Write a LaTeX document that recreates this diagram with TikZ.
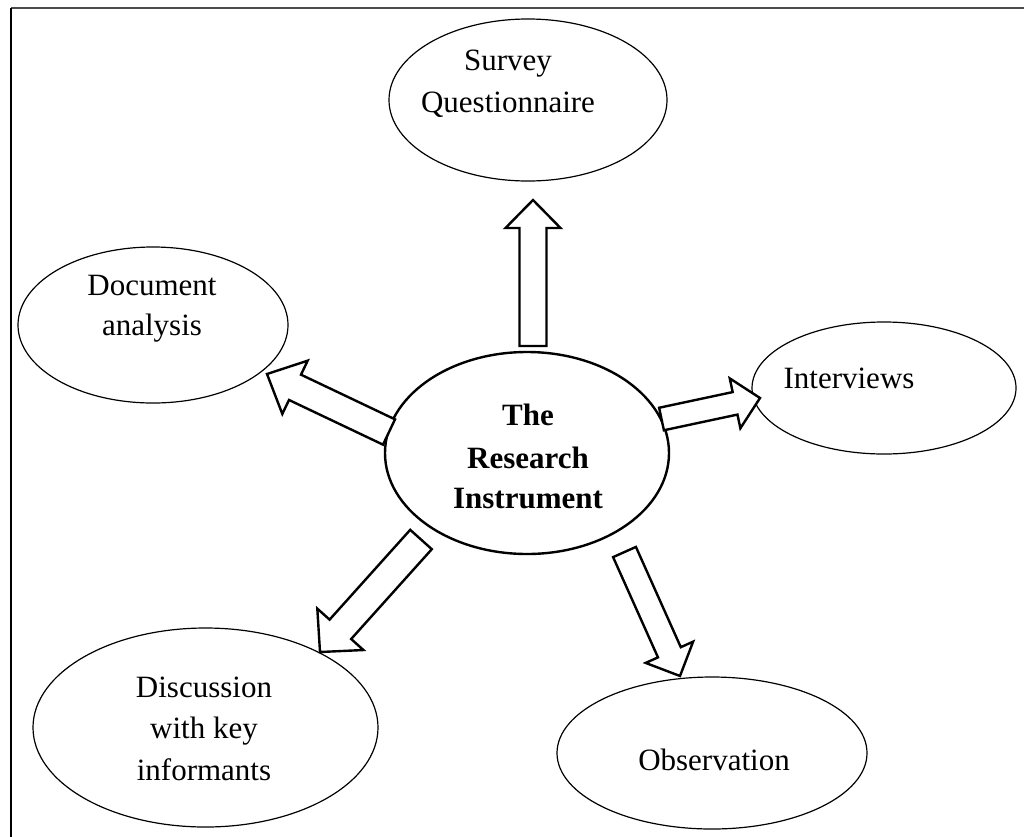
\documentclass[tikz,border=0pt]{standalone}
\usepackage{fontspec}
\setmainfont{Liberation Serif}
\usetikzlibrary{shapes.geometric,calc}

\tikzset{
  bubble/.style={draw, ellipse, inner sep=0pt, line width=1.2pt},
  core/.style={bubble, line width=2.4pt},
  caption/.style={anchor=base, inner sep=0pt, font=\fontsize{31}{42}\selectfont},
  corecaption/.style={caption, font=\fontsize{31}{42}\selectfont\bfseries},
  blockline/.style={draw, line width=2.4pt, line join=miter, fill=white},
  frameline/.style={line width=2pt}
}

% hollow block arrow: tail, tip, half shaft width, half head width, head length
\newcommand\blockarrow[5]{%
  \coordinate (#1-#2-h) at ($(#2)!#5!(#1)$);
  \draw[blockline] ($(#1)!#3!90:(#2)$) -- ($(#1-#2-h)!#3!90:(#2)$)
    -- ($(#1-#2-h)!#4!90:(#2)$) -- (#2) -- ($(#1-#2-h)!#4!-90:(#2)$)
    -- ($(#1-#2-h)!#3!-90:(#2)$) -- ($(#1)!#3!-90:(#2)$) -- cycle;
}

\begin{document}
\begin{tikzpicture}[x=1pt, y=-1pt]
  \useasboundingbox (0,0) rectangle (1024,836);

  % frame (only top and left edges fall inside the page)
  \draw[frameline, black!70] (11,7.5) -- (1040,7.5);
  \draw[frameline, black] (11,7.5) -- (11,850);

  % ellipses
  \node[core,   minimum width=284pt, minimum height=202pt] (main)   at (527,453) {};
  \node[bubble, minimum width=278pt, minimum height=162pt] (survey) at (528,100) {};
  \node[bubble, minimum width=270pt, minimum height=156pt] (docs)   at (153,325) {};
  \node[bubble, minimum width=264pt, minimum height=132pt] (interv) at (884,388) {};
  \node[bubble, minimum width=345pt, minimum height=199pt] (discuss) at (205.5,727.5) {};
  \node[bubble, minimum width=310pt, minimum height=152pt] (observ) at (712,753) {};

  % captions
  \node[corecaption] (mainA) at (528,425) {The};
  \node[corecaption] (mainB) at (528,468) {Research};
  \node[corecaption] (mainC) at (528,508) {Instrument};

  \node[caption] (surveyA) at (508,70) {Survey};
  \node[caption] (surveyB) at (508,112) {Questionnaire};

  \node[caption] (docsA) at (152,295) {Document};
  \node[caption] (docsB) at (152,335) {analysis};

  \node[caption] (intervA) at (849,388) {Interviews};

  \node[caption] (discussA) at (204,697) {Discussion};
  \node[caption] (discussB) at (204,738.5) {with key};
  \node[caption] (discussC) at (204,780) {informants};

  \node[caption] (observA) at (714,770) {Observation};

  % arrow end points
  \coordinate (upT) at (533,346);   \coordinate (upP) at (533,200);
  \coordinate (lfT) at (389,432);   \coordinate (lfP) at (267,374);
  \coordinate (rtT) at (661.5,419); \coordinate (rtP) at (760,398);
  \coordinate (dlT) at (421,539.5); \coordinate (dlP) at (320,652);
  \coordinate (drT) at (624.5,552); \coordinate (drP) at (680,676);

  % block arrows from the centre outwards
  \blockarrow{upT}{upP}{13.5pt}{27.5pt}{28pt}
  \blockarrow{lfT}{lfP}{14pt}{29.5pt}{31pt}
  \blockarrow{rtT}{rtP}{11.5pt}{25.5pt}{25.5pt}
  \blockarrow{dlT}{dlP}{14.5pt}{31pt}{30.5pt}
  \blockarrow{drT}{drP}{12.5pt}{26pt}{26pt}
\end{tikzpicture}
\end{document}
